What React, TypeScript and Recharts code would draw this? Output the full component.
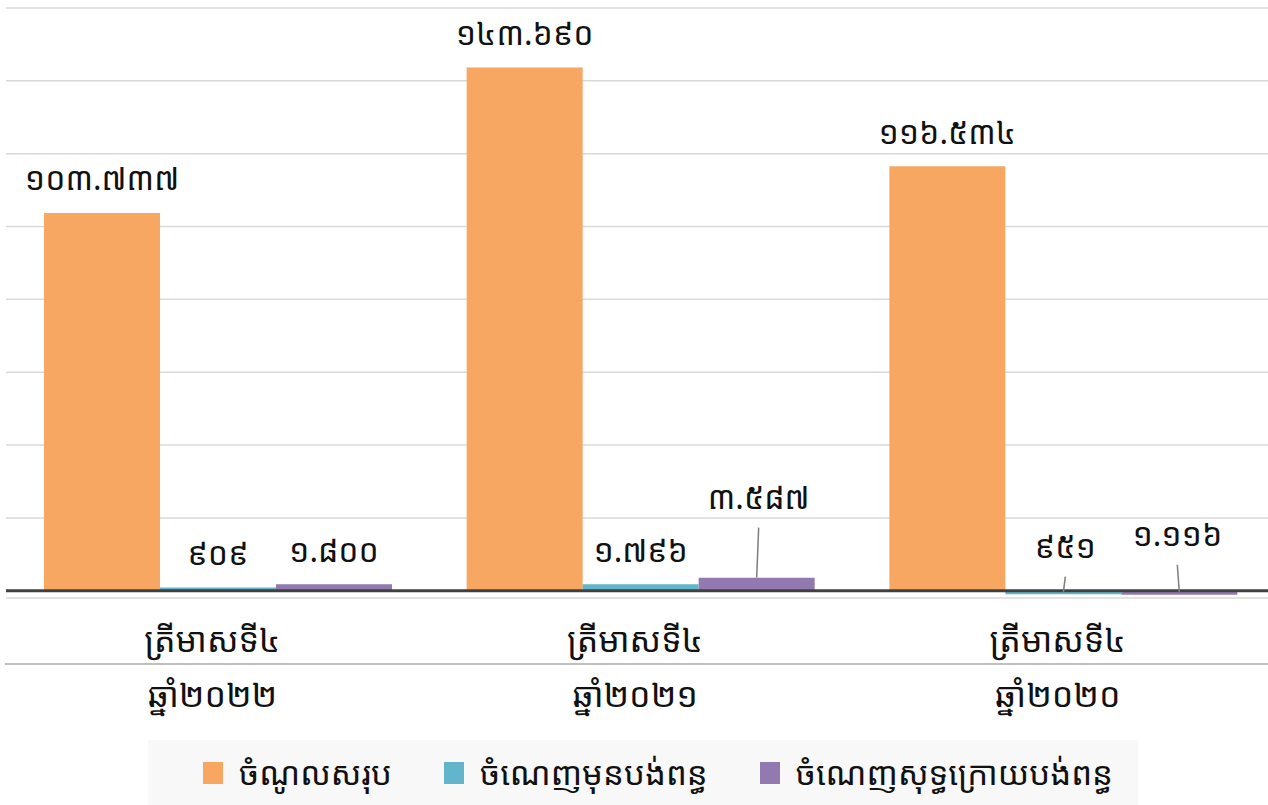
import React from "react";
import {
  BarChart,
  Bar,
  XAxis,
  YAxis,
  CartesianGrid,
  ReferenceLine,
  LabelList,
  Legend,
} from "recharts";

const quarters = ["ត្រីមាសទី៤", "ត្រីមាសទី៤", "ត្រីមាសទី៤"];
const years = ["ឆ្នាំ២០២២", "ឆ្នាំ២០២១", "ឆ្នាំ២០២០"];

const revenue = [103737, 143690, 116534];
const profitBeforeTax = [909, 1796, -951];
const profitAfterTax = [1800, 3587, -1116];

const yTicks = [0, 20000, 40000, 60000, 80000, 100000, 120000, 140000, 160000];

const series = [
  { key: "revenue", name: "ចំណូលសរុប", color: "#f8a762" },
  { key: "before", name: "ចំណេញមុនបង់ពន្ធ", color: "#62b5ca" },
  { key: "after", name: "ចំណេញសុទ្ធក្រោយបង់ពន្ធ", color: "#9279b0" },
];

// labels that sit further up with a leader line (series key -> index -> lift px)
const lifted: Record<string, Record<number, { lift: number; dx: number }>> = {
  before: { 2: { lift: 45, dx: 2 } },
  after: { 1: { lift: 81, dx: 2 }, 2: { lift: 57, dx: -2 } },
};

const data = quarters.map((q, i) => ({
  cat: i,
  quarter: q,
  year: years[i],
  revenue: revenue[i],
  before: profitBeforeTax[i],
  after: profitAfterTax[i],
}));

const KHMER = "០១២៣៤៥៦៧៨៩";
const toKhmer = (v: number) =>
  Math.abs(v)
    .toString()
    .replace(/\B(?=(\d{3})+(?!\d))/g, ".")
    .replace(/\d/g, (d) => KHMER[Number(d)]);

const FONT = '"Khmer OS", "Khmer OS System", "Noto Sans Khmer", "Noto Serif Khmer", "Noto Sans", sans-serif';

function makeLabel(seriesKey: string) {
  return (props: any) => {
    const { x, y, width, height, value, index } = props;
    const top = Math.min(y, y + height);
    const cx = x + width / 2;
    const special = lifted[seriesKey]?.[index];
    if (special) {
      const ly = top - special.lift;
      const anchorY = value < 0 ? top + 2 : top;
      return (
        <g>
          <line
            x1={cx}
            y1={anchorY}
            x2={cx + special.dx}
            y2={ly + 31}
            stroke="#7f7f7f"
            strokeWidth={1.5}
          />
          <text
            x={cx + special.dx}
            y={ly}
            textAnchor="middle"
            dominantBaseline="central"
            fontSize={32}
            fontFamily={FONT}
            fill="#111"
          >
            {toKhmer(value)}
          </text>
        </g>
      );
    }
    return (
      <text
        x={cx}
        y={top - 35}
        textAnchor="middle"
        dominantBaseline="central"
        fontSize={32}
        fontFamily={FONT}
        fill="#111"
      >
        {toKhmer(value)}
      </text>
    );
  };
}

function CategoryTick(props: any) {
  const { x, y, payload } = props;
  const d = data[payload.value];
  const half = 1274 / 3 / 2;
  return (
    <g>
      <text
        x={x - 5}
        y={y + 33}
        textAnchor="middle"
        dominantBaseline="central"
        fontSize={34}
        fontFamily={FONT}
        fill="#111"
      >
        {d.quarter}
      </text>
      <line x1={x - half} x2={x + half} y1={y + 58} y2={y + 58} stroke="#bfbfbf" strokeWidth={2} />
      <text
        x={x - 5}
        y={y + 88}
        textAnchor="middle"
        dominantBaseline="central"
        fontSize={34}
        fontFamily={FONT}
        fill="#111"
      >
        {d.year}
      </text>
    </g>
  );
}

function LegendBox() {
  return (
    <div
      style={{
        marginLeft: 148,
        width: 990,
        height: 65,
        boxSizing: "border-box",
        paddingLeft: 55,
        background: "#f8f8f8",
        display: "flex",
        alignItems: "center",
        justifyContent: "flex-start",
        gap: 52,
        fontFamily: FONT,
        fontSize: 33,
        color: "#111",
      }}
    >
      {series.map((s) => (
        <div key={s.key} style={{ display: "flex", alignItems: "center", gap: 16 }}>
          <span style={{ width: 20, height: 22, background: s.color, display: "inline-block" }} />
          <span>{s.name}</span>
        </div>
      ))}
    </div>
  );
}

export default function App() {
  return (
    <div style={{ width: 1268, height: 805, background: "#fff", overflow: "hidden" }}>
      <style>{`body{margin:0}`}</style>
      <BarChart
        width={1268}
        height={805}
        data={data}
        margin={{ top: 8, right: -6, left: 6, bottom: 0 }}
        barCategoryGap={38}
        barGap={0}
      >
        <CartesianGrid vertical={false} stroke="#d9d9d9" strokeWidth={1.5} />
        <YAxis hide domain={[-2000, 160000]} ticks={yTicks} />
        <XAxis
          dataKey="cat"
          axisLine={false}
          tickLine={false}
          height={142}
          tick={<CategoryTick />}
          interval={0}
        />
        <Legend
          verticalAlign="bottom"
          height={65}
          content={() => <LegendBox />}
          wrapperStyle={{ left: 0, width: 1268, bottom: 0 }}
        />
        {series.map((s) => (
          <Bar
            key={s.key}
            dataKey={s.key}
            name={s.name}
            fill={s.color}
            isAnimationActive={false}
          >
            <LabelList dataKey={s.key} content={makeLabel(s.key)} />
          </Bar>
        ))}
        <ReferenceLine y={0} stroke="#404040" strokeWidth={3} />
      </BarChart>
    </div>
  );
}
